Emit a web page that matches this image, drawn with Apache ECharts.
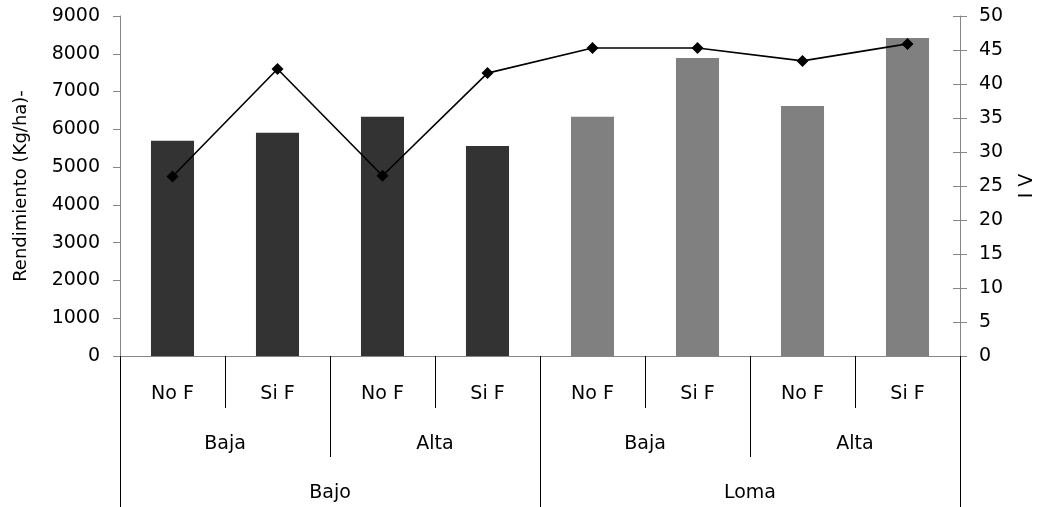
<!DOCTYPE html>
<html>
<head>
<meta charset="utf-8">
<script src="https://cdn.jsdelivr.net/npm/echarts@6/dist/echarts.min.js"></script>
<style>
html,body{margin:0;padding:0;background:#fff;}
#chart{width:1038px;height:507px;}
</style>
</head>
<body>
<div id="chart"></div>
<script>
// Data
const fertil = ['No F', 'Si F', 'No F', 'Si F', 'No F', 'Si F', 'No F', 'Si F'];
const densidad = ['Baja', 'Alta', 'Baja', 'Alta'];
const zona = ['Bajo', 'Loma'];
const zonaPorBarra = ['Bajo', 'Bajo', 'Bajo', 'Bajo', 'Loma', 'Loma', 'Loma', 'Loma'];
const rendimiento = [5700, 5910, 6330, 5560, 6330, 7890, 6620, 8420];
const iv = [26.4, 42.2, 26.5, 41.6, 45.3, 45.3, 43.4, 45.9];

const FONT = 'DejaVu Sans';
const zonaColor = { 'Bajo': '#333333', 'Loma': '#808080' };
const axisGray = '#868686';

const chart = echarts.init(document.getElementById('chart'), null, { renderer: 'canvas' });
chart.setOption({
  animation: false,
  backgroundColor: '#ffffff',
  textStyle: { fontFamily: FONT, color: '#000' },
  grid: { left: 120, right: 78, top: 16, bottom: 151, containLabel: false, outerBoundsMode: 'none' },
  xAxis: [
    {
      type: 'category', data: fertil, position: 'bottom', offset: 0,
      axisLine: { show: true, lineStyle: { color: axisGray, width: 1 } },
      axisTick: { show: true, interval: 0, length: 52, lineStyle: { color: '#000', width: 1 } },
      axisLabel: { interval: 0, margin: 29, fontSize: 19, color: '#000', fontFamily: FONT },
      splitLine: { show: false }
    },
    {
      type: 'category', data: densidad, position: 'bottom', offset: 0,
      axisLine: { show: false },
      axisTick: { show: true, interval: 0, length: 101, lineStyle: { color: '#000', width: 1 } },
      axisLabel: { interval: 0, margin: 79, fontSize: 19, color: '#000', fontFamily: FONT },
      splitLine: { show: false }
    },
    {
      type: 'category', data: zona, position: 'bottom', offset: 0,
      axisLine: { show: false },
      axisTick: { show: true, interval: 0, length: 151, lineStyle: { color: '#000', width: 1 } },
      axisLabel: { interval: 0, margin: 128, fontSize: 19, color: '#000', fontFamily: FONT },
      splitLine: { show: false }
    }
  ],
  yAxis: [
    {
      type: 'value', position: 'left', min: 0, max: 9000, interval: 1000,
      name: 'Rendimiento (Kg/ha)-', nameLocation: 'middle', nameRotate: 90, nameGap: 90,
      nameTextStyle: { fontSize: 18, color: '#000', fontFamily: FONT },
      axisLine: { show: true, lineStyle: { color: axisGray, width: 1 } },
      axisTick: { show: true, length: 7, lineStyle: { color: axisGray } },
      axisLabel: { margin: 20, fontSize: 19, color: '#000', fontFamily: FONT, formatter: function (v) { return String(v); } },
      splitLine: { show: false }
    },
    {
      type: 'value', position: 'right', min: 0, max: 50, interval: 5,
      name: 'I V', nameLocation: 'middle', nameRotate: 90, nameGap: 58,
      nameTextStyle: { fontSize: 19, color: '#000', fontFamily: FONT },
      axisLine: { show: true, lineStyle: { color: axisGray, width: 1 } },
      axisTick: { show: true, length: 7, lineStyle: { color: axisGray } },
      axisLabel: { margin: 19, fontSize: 19, color: '#000', fontFamily: FONT, formatter: function (v) { return String(v); } },
      splitLine: { show: false }
    },
    {
      type: 'value', position: 'right', offset: 0, min: 0, max: 50, interval: 5,
      axisLine: { show: false },
      axisTick: { show: true, inside: true, length: 7, lineStyle: { color: axisGray } },
      axisLabel: { show: false },
      splitLine: { show: false }
    }
  ],
  series: [
    {
      type: 'bar', xAxisIndex: 0, yAxisIndex: 0,
      data: rendimiento, barWidth: '41%',
      itemStyle: { color: function (p) { return zonaColor[zonaPorBarra[p.dataIndex]]; } }
    },
    {
      type: 'line', xAxisIndex: 0, yAxisIndex: 1,
      data: iv, symbol: 'diamond', symbolSize: 12, showAllSymbol: true,
      lineStyle: { color: '#000', width: 1.6 },
      itemStyle: { color: '#000' },
      z: 5
    }
  ]
});
</script>
</body>
</html>
